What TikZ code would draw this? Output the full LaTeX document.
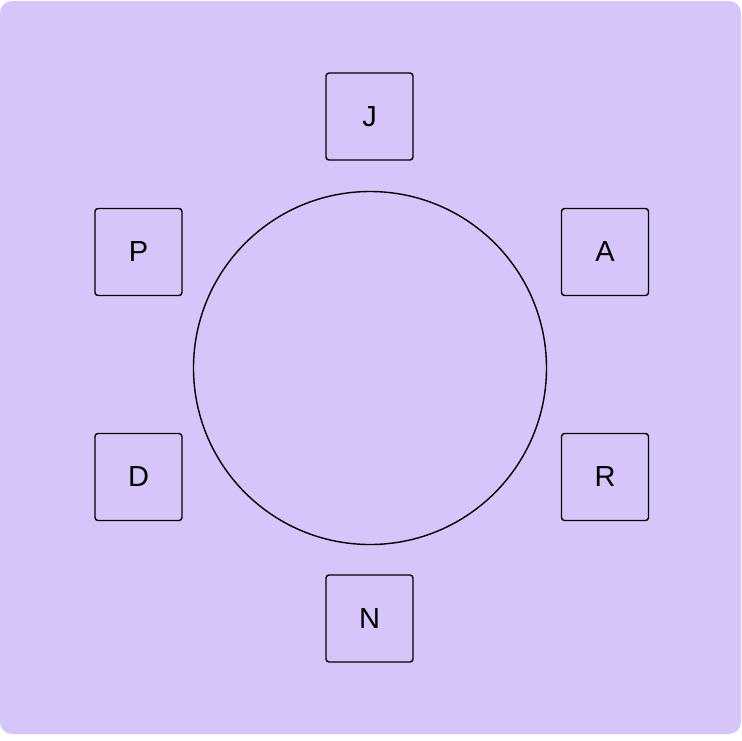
\documentclass[tikz,border=0pt]{standalone}
\usepackage{fontspec}
\setmainfont{Liberation Sans}
\definecolor{bgpurple}{HTML}{D5C5FB}
\tikzset{
  seat/.style={draw=black, rounded corners=3pt, line width=1.4pt,
    minimum width=87pt, minimum height=87pt, inner sep=0pt,
    font={\fontsize{29}{29}\selectfont}},
}
\begin{document}
\begin{tikzpicture}[x=1pt, y=-1pt]

\useasboundingbox (0,0) rectangle (742,740);
\fill[bgpurple, rounded corners=12pt] (0,1) rectangle (741,734);

% table
\node [draw=black, circle, line width=1.4pt, minimum size=353pt, inner sep=0pt] (table) at (370,368) {};

% seats round the table
\node [seat] (j) at (369.5,116.5) {J};
\node [seat] (p) at (138.5,252) {P};
\node [seat] (a) at (605,252) {A};
\node [seat] (d) at (138.5,477) {D};
\node [seat] (r) at (605,477) {R};
\node [seat] (n) at (369.5,618.5) {N};

\end{tikzpicture}
\end{document}
